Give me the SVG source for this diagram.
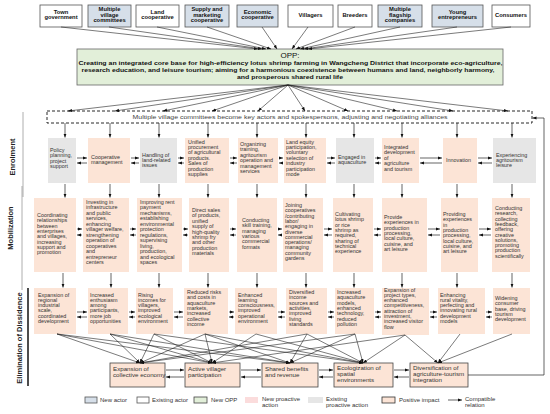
<svg xmlns="http://www.w3.org/2000/svg" width="550" height="414" viewBox="0 0 550 414">
<defs>
<marker id="ah" viewBox="0 0 10 10" refX="10" refY="5" markerWidth="4" markerHeight="4" markerUnits="userSpaceOnUse" orient="auto"><path d="M0,1 L10,5 L0,9 z" fill="#111"/></marker>
<style>
.t{font-family:"Liberation Sans",Arial,sans-serif;font-size:5.4px;fill:#333}
.tb{font-family:"Liberation Sans",Arial,sans-serif;font-size:5.8px;font-weight:bold;fill:#111;text-anchor:middle}
.ob{font-family:"Liberation Sans",Arial,sans-serif;font-size:6px;font-weight:bold;fill:#111;text-anchor:middle}
.lg{font-family:"Liberation Sans",Arial,sans-serif;font-size:6px;fill:#333}
.bt{font-family:"Liberation Sans",Arial,sans-serif;font-size:6.2px;fill:#333}
.st{font-family:"Liberation Sans",Arial,sans-serif;font-size:7.5px;font-weight:bold;fill:#222;text-anchor:middle}
.new{fill:#d6dfe9;stroke:#555;stroke-width:0.8}
.old{fill:#fff;stroke:#555;stroke-width:0.8}
.pe{fill:#fce4d6}
.gr{fill:#e6e6e6}
.pi{fill:#fce4d6;stroke:#444;stroke-width:0.8}
.ln{stroke:#222;stroke-width:0.6;fill:none;marker-end:url(#ah)}
.ar{stroke:#222;stroke-width:0.7;fill:none;marker-end:url(#ah)}
</style>
</defs>
<rect width="550" height="414" fill="#fff"/>

<!-- stage labels -->
<g id="stages">
<text class="st" transform="translate(15,157) rotate(-90)">Enrolment</text>
<line x1="23" y1="112" x2="23" y2="197" stroke="#999" stroke-width="0.8"/>
<text class="st" transform="translate(13,228) rotate(-90)">Mobilization</text>
<line x1="22" y1="186" x2="22" y2="290" stroke="#999" stroke-width="0.8"/>
<text class="st" transform="translate(22,338) rotate(-90)">Elimination of Dissidence</text>
<line x1="28" y1="288" x2="28" y2="386" stroke="#111" stroke-width="1.5"/>
</g>

<!-- actors -->
<g id="a1"><rect class="old" x="40" y="5" width="42" height="22"/><text class="tb" x="61" y="13.7">Town</text><text class="tb" x="61" y="19.3">government</text></g>
<g id="a2"><rect class="new" x="88" y="5" width="43" height="22"/><text class="tb" x="109.5" y="11.3">Multiple</text><text class="tb" x="109.5" y="16.6">village</text><text class="tb" x="109.5" y="22">committees</text></g>
<g id="a3"><rect class="old" x="136" y="5" width="43" height="22"/><text class="tb" x="157.5" y="13.7">Land</text><text class="tb" x="157.5" y="19.3">cooperative</text></g>
<g id="a4"><rect class="new" x="185" y="5" width="44" height="22"/><text class="tb" x="207" y="11.3">Supply and</text><text class="tb" x="207" y="16.6">marketing</text><text class="tb" x="207" y="22">cooperative</text></g>
<g id="a5"><rect class="new" x="237" y="5" width="41" height="22"/><text class="tb" x="257.5" y="13.7">Economic</text><text class="tb" x="257.5" y="19.3">cooperative</text></g>
<g id="a6"><rect class="old" x="288" y="5" width="45" height="22"/><text class="tb" x="310.5" y="17">Villagers</text></g>
<g id="a7"><rect class="old" x="338" y="5" width="34" height="22"/><text class="tb" x="355" y="17">Breeders</text></g>
<g id="a8"><rect class="new" x="378" y="5" width="44" height="22"/><text class="tb" x="400" y="11.3">Multiple</text><text class="tb" x="400" y="16.6">flagship</text><text class="tb" x="400" y="22">companies</text></g>
<g id="a9"><rect class="new" x="432" y="5" width="51" height="22"/><text class="tb" x="457.5" y="13.7">Young</text><text class="tb" x="457.5" y="19.3">entrepreneurs</text></g>
<g id="a10"><rect class="old" x="492" y="5" width="38" height="22"/><text class="tb" x="511" y="17">Consumers</text></g>

<!-- OPP -->
<g id="opp">
<rect x="77" y="49" width="426" height="36" fill="#e2efd9" stroke="#666" stroke-width="0.8"/>
<text x="290" y="58" font-family="Liberation Sans, Arial, sans-serif" font-size="8" fill="#111" text-anchor="middle">OPP:</text>
<text class="ob" x="290.5" y="65" textLength="424" lengthAdjust="spacingAndGlyphs">Creating an integrated core base for high-efficiency lotus shrimp farming in Wangcheng District that incorporate eco-agriculture,</text>
<text class="ob" x="288" y="72.3" textLength="413" lengthAdjust="spacingAndGlyphs">research education, and leisure tourism; aiming for a harmonious coexistence between humans and land, neighborly harmony,</text>
<text class="ob" x="290" y="79.3" textLength="106" lengthAdjust="spacingAndGlyphs">and prosperous shared rural life</text>
</g>

<!-- alliance dashed box -->
<g id="alliance">
<rect x="47" y="111" width="485" height="12" fill="#fff" stroke="#111" stroke-width="0.9" stroke-dasharray="3,2"/>
<text x="290" y="119.3" font-family="Liberation Sans, Arial, sans-serif" font-size="6" fill="#444" text-anchor="middle" textLength="315" lengthAdjust="spacingAndGlyphs">Multiple village committees become key actors and spokespersons, adjusting and negotiating alliances</text>
</g>

<!-- Enrolment -->
<g id="e1"><rect class="gr" x="48" y="138" width="28" height="45"/><text class="t" x="50" y="152"><tspan x="50">Policy</tspan><tspan x="50" dy="5.4">planning,</tspan><tspan x="50" dy="5.4">project</tspan><tspan x="50" dy="5.4">support</tspan></text></g>
<g id="e2"><rect class="pe" x="88" y="138" width="42" height="45"/><text class="t" x="91" y="159"><tspan x="91">Cooperative</tspan><tspan x="91" dy="5.4">management</tspan></text></g>
<g id="e3"><rect class="gr" x="140" y="138" width="37" height="45"/><text class="t" x="142" y="156.5"><tspan x="142">Handling of</tspan><tspan x="142" dy="5.4">land-related</tspan><tspan x="142" dy="5.4">issues</tspan></text></g>
<g id="e4"><rect class="pe" x="185" y="138" width="44" height="45"/><text class="t" x="188" y="143.5"><tspan x="188">Unified</tspan><tspan x="188" dy="5.4">procurement</tspan><tspan x="188" dy="5.4">of agricultural</tspan><tspan x="188" dy="5.4">products.</tspan><tspan x="188" dy="5.4">Sales of</tspan><tspan x="188" dy="5.4">production</tspan><tspan x="188" dy="5.4">supplies</tspan></text></g>
<g id="e5"><rect class="pe" x="238" y="138" width="40" height="45"/><text class="t" x="240" y="146"><tspan x="240">Organizing</tspan><tspan x="240" dy="5.4">training,</tspan><tspan x="240" dy="5.4">agritourism</tspan><tspan x="240" dy="5.4">operation and</tspan><tspan x="240" dy="5.4">management</tspan><tspan x="240" dy="5.4">services</tspan></text></g>
<g id="e6"><rect class="pe" x="284" y="138" width="42" height="45"/><text class="t" x="286" y="143.5"><tspan x="286">Land equity</tspan><tspan x="286" dy="5.4">participation,</tspan><tspan x="286" dy="5.4">voluntary</tspan><tspan x="286" dy="5.4">selection of</tspan><tspan x="286" dy="5.4">industry</tspan><tspan x="286" dy="5.4">participation</tspan><tspan x="286" dy="5.4">mode</tspan></text></g>
<g id="e7"><rect class="gr" x="336" y="138" width="38" height="45"/><text class="t" x="338" y="159"><tspan x="338">Engaged in</tspan><tspan x="338" dy="5.4">aquaculture</tspan></text></g>
<g id="e8"><rect class="pe" x="382" y="138" width="37" height="45"/><text class="t" x="384" y="149"><tspan x="384">Integrated</tspan><tspan x="384" dy="5.4">development</tspan><tspan x="384" dy="5.4">of</tspan><tspan x="384" dy="5.4">agriculture</tspan><tspan x="384" dy="5.4">and tourism</tspan></text></g>
<g id="e9"><rect class="pe" x="443" y="138" width="34" height="45"/><text class="t" x="446" y="162">Innovation</text></g>
<g id="e10"><rect class="gr" x="493" y="138" width="43" height="45"/><text class="t" x="496" y="156.5"><tspan x="496">Experiencing</tspan><tspan x="496" dy="5.4">agritourism</tspan><tspan x="496" dy="5.4">leisure</tspan></text></g>

<!-- Mobilization -->
<g id="m1"><rect class="pe" x="34" y="198" width="42" height="74"/><text class="t" x="37" y="217"><tspan x="37">Coordinating</tspan><tspan x="37" dy="5.3">relationships</tspan><tspan x="37" dy="5.3">between</tspan><tspan x="37" dy="5.3">enterprises</tspan><tspan x="37" dy="5.3">and villages,</tspan><tspan x="37" dy="5.3">increasing</tspan><tspan x="37" dy="5.3">support and</tspan><tspan x="37" dy="5.3">promotion</tspan></text></g>
<g id="m2"><rect class="pe" x="83" y="198" width="46" height="74"/><text class="t" x="86" y="203.5"><tspan x="86">Investing in</tspan><tspan x="86" dy="5.5">infrastructure</tspan><tspan x="86" dy="5.5">and public</tspan><tspan x="86" dy="5.5">services,</tspan><tspan x="86" dy="5.5">enhancing</tspan><tspan x="86" dy="5.5">villager welfare,</tspan><tspan x="86" dy="5.5">strengthening</tspan><tspan x="86" dy="5.5">operation of</tspan><tspan x="86" dy="5.5">cooperatives</tspan><tspan x="86" dy="5.5">and</tspan><tspan x="86" dy="5.5">entrepreneur</tspan><tspan x="86" dy="5.5">centers</tspan></text></g>
<g id="m3"><rect class="pe" x="137" y="198" width="45" height="74"/><text class="t" x="140" y="203.5"><tspan x="140">Improving rent</tspan><tspan x="140" dy="5.5">payment</tspan><tspan x="140" dy="5.5">mechanisms,</tspan><tspan x="140" dy="5.5">establishing</tspan><tspan x="140" dy="5.5">environmental</tspan><tspan x="140" dy="5.5">protection</tspan><tspan x="140" dy="5.5">regulations,</tspan><tspan x="140" dy="5.5">supervising</tspan><tspan x="140" dy="5.5">living,</tspan><tspan x="140" dy="5.5">production,</tspan><tspan x="140" dy="5.5">and ecological</tspan><tspan x="140" dy="5.5">spaces</tspan></text></g>
<g id="m4"><rect class="pe" x="189" y="198" width="40" height="74"/><text class="t" x="192" y="212"><tspan x="192">Direct sales</tspan><tspan x="192" dy="5.4">of products,</tspan><tspan x="192" dy="5.4">unified</tspan><tspan x="192" dy="5.4">supply of</tspan><tspan x="192" dy="5.4">high-quality</tspan><tspan x="192" dy="5.4">shrimp fry</tspan><tspan x="192" dy="5.4">and other</tspan><tspan x="192" dy="5.4">production</tspan><tspan x="192" dy="5.4">materials</tspan></text></g>
<g id="m5"><rect class="pe" x="237" y="198" width="40" height="74"/><text class="t" x="242" y="222"><tspan x="242">Conducting</tspan><tspan x="242" dy="5.3">skill training,</tspan><tspan x="242" dy="5.3">managing</tspan><tspan x="242" dy="5.3">various</tspan><tspan x="242" dy="5.3">commercial</tspan><tspan x="242" dy="5.3">formats</tspan></text></g>
<g id="m6"><rect class="pe" x="283" y="198" width="40" height="74"/><text class="t" x="285" y="207"><tspan x="285">Joining</tspan><tspan x="285" dy="5.3">cooperatives</tspan><tspan x="285" dy="5.3">/contributing</tspan><tspan x="285" dy="5.3">labor/</tspan><tspan x="285" dy="5.3">engaging in</tspan><tspan x="285" dy="5.3">diverse</tspan><tspan x="285" dy="5.3">commercial</tspan><tspan x="285" dy="5.3">operations/</tspan><tspan x="285" dy="5.3">managing</tspan><tspan x="285" dy="5.3">community</tspan><tspan x="285" dy="5.3">gardens</tspan></text></g>
<g id="m7"><rect class="pe" x="333" y="198" width="40" height="74"/><text class="t" x="335" y="216"><tspan x="335">Cultivating</tspan><tspan x="335" dy="5.3">lotus shrimp</tspan><tspan x="335" dy="5.3">or rice</tspan><tspan x="335" dy="5.3">shrimp as</tspan><tspan x="335" dy="5.3">required,</tspan><tspan x="335" dy="5.3">sharing of</tspan><tspan x="335" dy="5.3">technical</tspan><tspan x="335" dy="5.3">experience</tspan></text></g>
<g id="m8"><rect class="pe" x="382" y="198" width="45" height="74"/><text class="t" x="384" y="219"><tspan x="384">Provide</tspan><tspan x="384" dy="5.3">experiences in</tspan><tspan x="384" dy="5.3">production</tspan><tspan x="384" dy="5.3">processing,</tspan><tspan x="384" dy="5.3">local culture,</tspan><tspan x="384" dy="5.3">cuisine, and</tspan><tspan x="384" dy="5.3">art leisure</tspan></text></g>
<g id="m9"><rect class="pe" x="441" y="198" width="37" height="74"/><text class="t" x="443" y="216"><tspan x="443">Providing</tspan><tspan x="443" dy="5.3">experiences</tspan><tspan x="443" dy="5.3">in</tspan><tspan x="443" dy="5.3">production</tspan><tspan x="443" dy="5.3">processing,</tspan><tspan x="443" dy="5.3">local culture,</tspan><tspan x="443" dy="5.3">cuisine, and</tspan><tspan x="443" dy="5.3">art leisure</tspan></text></g>
<g id="m10"><rect class="pe" x="492" y="198" width="38" height="74"/><text class="t" x="495" y="210"><tspan x="495">Conducting</tspan><tspan x="495" dy="5.3">research,</tspan><tspan x="495" dy="5.3">collecting</tspan><tspan x="495" dy="5.3">feedback,</tspan><tspan x="495" dy="5.3">offering</tspan><tspan x="495" dy="5.3">creative</tspan><tspan x="495" dy="5.3">solutions,</tspan><tspan x="495" dy="5.3">promoting</tspan><tspan x="495" dy="5.3">production</tspan><tspan x="495" dy="5.3">scientifically</tspan></text></g>

<!-- Elimination of dissidence -->
<g id="d1"><rect class="pe" x="34" y="288" width="42" height="46"/><text class="t" x="38" y="296.5"><tspan x="38">Expansion of</tspan><tspan x="38" dy="5.3">regional</tspan><tspan x="38" dy="5.3">industrial</tspan><tspan x="38" dy="5.3">scale,</tspan><tspan x="38" dy="5.3">coordinated</tspan><tspan x="38" dy="5.3">development</tspan></text></g>
<g id="d2"><rect class="pe" x="88" y="288" width="40" height="46"/><text class="t" x="90" y="296.5"><tspan x="90">Increased</tspan><tspan x="90" dy="5.3">enthusiasm</tspan><tspan x="90" dy="5.3">among</tspan><tspan x="90" dy="5.3">participants,</tspan><tspan x="90" dy="5.3">more job</tspan><tspan x="90" dy="5.3">opportunities</tspan></text></g>
<g id="d3"><rect class="pe" x="136" y="288" width="37" height="46"/><text class="t" x="138" y="296.5"><tspan x="138">Rising</tspan><tspan x="138" dy="5.3">incomes for</tspan><tspan x="138" dy="5.3">villagers,</tspan><tspan x="138" dy="5.3">improved</tspan><tspan x="138" dy="5.3">ecological</tspan><tspan x="138" dy="5.3">environment</tspan></text></g>
<g id="d4"><rect class="pe" x="184" y="288" width="44" height="46"/><text class="t" x="187" y="294"><tspan x="187">Reduced risks</tspan><tspan x="187" dy="5.3">and costs in</tspan><tspan x="187" dy="5.3">aquaculture</tspan><tspan x="187" dy="5.3">markets,</tspan><tspan x="187" dy="5.3">increased</tspan><tspan x="187" dy="5.3">collective</tspan><tspan x="187" dy="5.3">income</tspan></text></g>
<g id="d5"><rect class="pe" x="235" y="288" width="42" height="46"/><text class="t" x="238" y="296.5"><tspan x="238">Enhanced</tspan><tspan x="238" dy="5.3">learning</tspan><tspan x="238" dy="5.3">consciousness,</tspan><tspan x="238" dy="5.3">improved</tspan><tspan x="238" dy="5.3">operational</tspan><tspan x="238" dy="5.3">environment</tspan></text></g>
<g id="d6"><rect class="pe" x="286" y="288" width="41" height="46"/><text class="t" x="289" y="294"><tspan x="289">Diversified</tspan><tspan x="289" dy="5.3">income</tspan><tspan x="289" dy="5.3">sources and</tspan><tspan x="289" dy="5.3">activities,</tspan><tspan x="289" dy="5.3">improved</tspan><tspan x="289" dy="5.3">living</tspan><tspan x="289" dy="5.3">standards</tspan></text></g>
<g id="d7"><rect class="pe" x="335" y="288" width="39" height="46"/><text class="t" x="337" y="294"><tspan x="337">Increased</tspan><tspan x="337" dy="5.3">aquaculture</tspan><tspan x="337" dy="5.3">models,</tspan><tspan x="337" dy="5.3">enhanced</tspan><tspan x="337" dy="5.3">technology,</tspan><tspan x="337" dy="5.3">reduced</tspan><tspan x="337" dy="5.3">pollution</tspan></text></g>
<g id="d8"><rect class="pe" x="382" y="288" width="47" height="47"/><text class="t" x="384" y="291.5"><tspan x="384">Expansion of</tspan><tspan x="384" dy="5.3">project types,</tspan><tspan x="384" dy="5.3">enhanced</tspan><tspan x="384" dy="5.3">competitiveness,</tspan><tspan x="384" dy="5.3">attraction of</tspan><tspan x="384" dy="5.3">investment,</tspan><tspan x="384" dy="5.3">increased visitor</tspan><tspan x="384" dy="5.3">flow</tspan></text></g>
<g id="d9"><rect class="pe" x="438" y="288" width="47" height="46"/><text class="t" x="440" y="296.5"><tspan x="440">Enhancing</tspan><tspan x="440" dy="5.3">rural vitality,</tspan><tspan x="440" dy="5.3">perfecting and</tspan><tspan x="440" dy="5.3">innovating rural</tspan><tspan x="440" dy="5.3">development</tspan><tspan x="440" dy="5.3">models</tspan></text></g>
<g id="d10"><rect class="pe" x="493" y="288" width="37" height="46"/><text class="t" x="495" y="300"><tspan x="495">Widening</tspan><tspan x="495" dy="5.3">consumer</tspan><tspan x="495" dy="5.3">base, driving</tspan><tspan x="495" dy="5.3">tourism</tspan><tspan x="495" dy="5.3">development</tspan></text></g>

<!-- Bottom outcomes -->
<g id="b1"><rect class="pi" x="110" y="363" width="55" height="24"/><text class="bt" x="113" y="371"><tspan x="113">Expansion of</tspan><tspan x="113" dy="6.3">collective economy</tspan></text></g>
<g id="b2"><rect class="pi" x="185" y="363" width="55" height="24"/><text class="bt" x="188" y="371"><tspan x="188">Active villager</tspan><tspan x="188" dy="6.3">participation</tspan></text></g>
<g id="b3"><rect class="pi" x="262" y="363" width="56" height="24"/><text class="bt" x="265" y="371"><tspan x="265">Shared benefits</tspan><tspan x="265" dy="6.3">and revenue</tspan></text></g>
<g id="b4"><rect class="pi" x="334" y="363" width="59" height="24"/><text class="bt" x="337" y="370"><tspan x="337">Ecologization of</tspan><tspan x="337" dy="5.8">spatial</tspan><tspan x="337" dy="5.8">environments</tspan></text></g>
<g id="b5"><rect class="pi" x="410" y="363" width="58" height="24"/><text class="bt" x="413" y="370"><tspan x="413">Diversification of</tspan><tspan x="413" dy="5.8">agriculture-tourism</tspan><tspan x="413" dy="5.8">integration</tspan></text></g>

<!-- connectors -->
<g id="connectors">
<!-- actors to OPP -->
<line class="ln" x1="61" y1="27" x2="258" y2="49"/>
<line class="ln" x1="109" y1="27" x2="262" y2="49"/>
<line class="ln" x1="157" y1="27" x2="266" y2="49"/>
<line class="ln" x1="207" y1="27" x2="271" y2="49"/>
<line class="ln" x1="262" y1="27" x2="277" y2="49"/>
<line class="ln" x1="308" y1="27" x2="292" y2="49"/>
<line class="ln" x1="355" y1="27" x2="296" y2="49"/>
<line class="ln" x1="400" y1="27" x2="300" y2="49"/>
<line class="ln" x1="457" y1="27" x2="304" y2="49"/>
<line class="ln" x1="511" y1="27" x2="308" y2="49"/>
<!-- OPP to alliance -->
<line class="ln" x1="288" y1="85" x2="68" y2="111"/>
<line class="ln" x1="288" y1="85" x2="115" y2="111"/>
<line class="ln" x1="288" y1="85" x2="163" y2="111"/>
<line class="ln" x1="288" y1="85" x2="212" y2="111"/>
<line class="ln" x1="288" y1="85" x2="258" y2="111"/>
<line class="ln" x1="288" y1="85" x2="305" y2="111"/>
<line class="ln" x1="288" y1="85" x2="348" y2="111"/>
<line class="ln" x1="288" y1="85" x2="397" y2="111"/>
<line class="ln" x1="288" y1="85" x2="453" y2="111"/>
<line class="ln" x1="288" y1="85" x2="508" y2="111"/>
<!-- vertical arrows -->
<line class="ar" x1="65" y1="123" x2="65" y2="137.5"/><line class="ar" x1="110" y1="123" x2="110" y2="137.5"/><line class="ar" x1="159" y1="123" x2="159" y2="137.5"/><line class="ar" x1="208" y1="123" x2="208" y2="137.5"/><line class="ar" x1="257" y1="123" x2="257" y2="137.5"/><line class="ar" x1="306" y1="123" x2="306" y2="137.5"/><line class="ar" x1="354" y1="123" x2="354" y2="137.5"/><line class="ar" x1="402" y1="123" x2="402" y2="137.5"/><line class="ar" x1="457" y1="123" x2="457" y2="137.5"/><line class="ar" x1="512" y1="123" x2="512" y2="137.5"/>
<line class="ar" x1="65" y1="184" x2="65" y2="197.5"/><line class="ar" x1="110" y1="184" x2="110" y2="197.5"/><line class="ar" x1="159" y1="184" x2="159" y2="197.5"/><line class="ar" x1="208" y1="184" x2="208" y2="197.5"/><line class="ar" x1="257" y1="184" x2="257" y2="197.5"/><line class="ar" x1="306" y1="184" x2="306" y2="197.5"/><line class="ar" x1="354" y1="184" x2="354" y2="197.5"/><line class="ar" x1="402" y1="184" x2="402" y2="197.5"/><line class="ar" x1="457" y1="184" x2="457" y2="197.5"/><line class="ar" x1="512" y1="184" x2="512" y2="197.5"/>
<line class="ar" x1="63" y1="273" x2="63" y2="287.5"/><line class="ar" x1="111" y1="273" x2="111" y2="287.5"/><line class="ar" x1="159" y1="273" x2="159" y2="287.5"/><line class="ar" x1="208" y1="273" x2="208" y2="287.5"/><line class="ar" x1="257" y1="273" x2="257" y2="287.5"/><line class="ar" x1="306" y1="273" x2="306" y2="287.5"/><line class="ar" x1="354" y1="273" x2="354" y2="287.5"/><line class="ar" x1="402" y1="273" x2="402" y2="287.5"/><line class="ar" x1="457" y1="273" x2="457" y2="287.5"/><line class="ar" x1="512" y1="273" x2="512" y2="287.5"/>
<!-- compatible relation pairs: enrolment -->
<g>
<line class="ar" x1="77" y1="158" x2="87" y2="158"/><line class="ar" x1="87" y1="163" x2="77" y2="163"/>
<line class="ar" x1="131" y1="158" x2="139" y2="158"/><line class="ar" x1="139" y1="163" x2="131" y2="163"/>
<line class="ar" x1="178" y1="158" x2="184" y2="158"/><line class="ar" x1="184" y1="163" x2="178" y2="163"/>
<line class="ar" x1="230" y1="158" x2="237" y2="158"/><line class="ar" x1="237" y1="163" x2="230" y2="163"/>
<line class="ar" x1="279" y1="158" x2="283" y2="158"/><line class="ar" x1="283" y1="163" x2="279" y2="163"/>
<line class="ar" x1="327" y1="158" x2="335" y2="158"/><line class="ar" x1="335" y1="163" x2="327" y2="163"/>
<line class="ar" x1="375" y1="158" x2="381" y2="158"/><line class="ar" x1="381" y1="163" x2="375" y2="163"/>
<line class="ar" x1="420" y1="158" x2="442" y2="158"/><line class="ar" x1="442" y1="163" x2="420" y2="163"/>
<line class="ar" x1="478" y1="158" x2="492" y2="158"/><line class="ar" x1="492" y1="163" x2="478" y2="163"/>
</g>
<g>
<line class="ar" x1="77" y1="229" x2="82" y2="229"/><line class="ar" x1="82" y1="235" x2="77" y2="235"/>
<line class="ar" x1="130" y1="229" x2="136" y2="229"/><line class="ar" x1="136" y1="235" x2="130" y2="235"/>
<line class="ar" x1="183" y1="229" x2="188" y2="229"/><line class="ar" x1="188" y1="235" x2="183" y2="235"/>
<line class="ar" x1="230" y1="229" x2="236" y2="229"/><line class="ar" x1="236" y1="235" x2="230" y2="235"/>
<line class="ar" x1="278" y1="229" x2="282" y2="229"/><line class="ar" x1="282" y1="235" x2="278" y2="235"/>
<line class="ar" x1="324" y1="229" x2="332" y2="229"/><line class="ar" x1="332" y1="235" x2="324" y2="235"/>
<line class="ar" x1="374" y1="229" x2="381" y2="229"/><line class="ar" x1="381" y1="235" x2="374" y2="235"/>
<line class="ar" x1="428" y1="229" x2="440" y2="229"/><line class="ar" x1="440" y1="235" x2="428" y2="235"/>
<line class="ar" x1="479" y1="229" x2="491" y2="229"/><line class="ar" x1="491" y1="235" x2="479" y2="235"/>
</g>
<g>
<line class="ar" x1="77" y1="312" x2="87" y2="312"/><line class="ar" x1="87" y1="317" x2="77" y2="317"/>
<line class="ar" x1="129" y1="312" x2="135" y2="312"/><line class="ar" x1="135" y1="317" x2="129" y2="317"/>
<line class="ar" x1="174" y1="312" x2="183" y2="312"/><line class="ar" x1="183" y1="317" x2="174" y2="317"/>
<line class="ar" x1="229" y1="312" x2="234" y2="312"/><line class="ar" x1="234" y1="317" x2="229" y2="317"/>
<line class="ar" x1="278" y1="312" x2="285" y2="312"/><line class="ar" x1="285" y1="317" x2="278" y2="317"/>
<line class="ar" x1="328" y1="312" x2="334" y2="312"/><line class="ar" x1="334" y1="317" x2="328" y2="317"/>
<line class="ar" x1="375" y1="312" x2="381" y2="312"/><line class="ar" x1="381" y1="317" x2="375" y2="317"/>
<line class="ar" x1="430" y1="312" x2="437" y2="312"/><line class="ar" x1="437" y1="317" x2="430" y2="317"/>
<line class="ar" x1="486" y1="312" x2="492" y2="312"/><line class="ar" x1="492" y1="317" x2="486" y2="317"/>
</g>
<g>
<line class="ar" x1="166" y1="370" x2="184" y2="370"/><line class="ar" x1="184" y1="377" x2="166" y2="377"/>
<line class="ar" x1="241" y1="370" x2="261" y2="370"/><line class="ar" x1="261" y1="377" x2="241" y2="377"/>
<line class="ar" x1="319" y1="370" x2="333" y2="370"/><line class="ar" x1="333" y1="377" x2="319" y2="377"/>
<line class="ar" x1="394" y1="370" x2="409" y2="370"/><line class="ar" x1="409" y1="377" x2="394" y2="377"/>
</g>
<!-- dissidence to outcomes -->
<g>
<line class="ln" x1="57" y1="334" x2="140" y2="363"/>
<line class="ln" x1="57" y1="334" x2="212" y2="363"/>
<line class="ln" x1="57" y1="334" x2="290" y2="363"/>
<line class="ln" x1="110" y1="334" x2="140" y2="363"/>
<line class="ln" x1="110" y1="334" x2="212" y2="363"/>
<line class="ln" x1="110" y1="334" x2="290" y2="363"/>
<line class="ln" x1="154" y1="334" x2="140" y2="363"/>
<line class="ln" x1="154" y1="334" x2="212" y2="363"/>
<line class="ln" x1="154" y1="334" x2="363" y2="363"/>
<line class="ln" x1="205" y1="334" x2="140" y2="363"/>
<line class="ln" x1="205" y1="334" x2="212" y2="363"/>
<line class="ln" x1="205" y1="334" x2="290" y2="363"/>
<line class="ln" x1="205" y1="334" x2="363" y2="363"/>
<line class="ln" x1="256" y1="334" x2="212" y2="363"/>
<line class="ln" x1="256" y1="334" x2="363" y2="363"/>
<line class="ln" x1="307" y1="334" x2="140" y2="363"/>
<line class="ln" x1="307" y1="334" x2="290" y2="363"/>
<line class="ln" x1="307" y1="334" x2="363" y2="363"/>
<line class="ln" x1="355" y1="334" x2="290" y2="363"/>
<line class="ln" x1="355" y1="334" x2="363" y2="363"/>
<line class="ln" x1="355" y1="334" x2="140" y2="363"/>
<line class="ln" x1="405" y1="335" x2="212" y2="363"/>
<line class="ln" x1="405" y1="335" x2="363" y2="363"/>
<line class="ln" x1="405" y1="335" x2="438" y2="363"/>
<line class="ln" x1="460" y1="334" x2="438" y2="363"/>
<line class="ln" x1="512" y1="334" x2="438" y2="363"/>
</g>
<!-- feedback -->
<polyline class="ar" points="468,375 544,375 544,118 532.5,118"/>
</g>

<!-- legend -->
<g id="legend">
<rect class="new" x="85" y="397" width="12" height="6"/><text class="lg" x="100" y="402.3">New actor</text>
<rect class="old" x="137" y="397" width="12" height="6" stroke="#222"/><text class="lg" x="152" y="402.3">Existing actor</text>
<rect x="194" y="397" width="13" height="6" fill="#e2efd9" stroke="#444" stroke-width="0.8"/><text class="lg" x="211" y="402.3">New OPP</text>
<rect x="245" y="397" width="13" height="6" fill="#fbdcdc"/><text class="lg" x="262" y="400.5"><tspan x="262">New proactive</tspan><tspan x="262" dy="6">action</tspan></text>
<rect x="308" y="397" width="15" height="6" fill="#e6e6e6"/><text class="lg" x="326" y="400.5"><tspan x="326">Existing</tspan><tspan x="326" dy="6">proactive action</tspan></text>
<rect x="382" y="397" width="13" height="6" fill="#fce4d6" stroke="#333" stroke-width="0.8"/><text class="lg" x="399" y="402.3">Positive impact</text>
<line class="ar" x1="448" y1="400" x2="462" y2="400"/><text class="lg" x="465" y="400.5"><tspan x="465">Compatible</tspan><tspan x="465" dy="6">relation</tspan></text>
</g>
</svg>
